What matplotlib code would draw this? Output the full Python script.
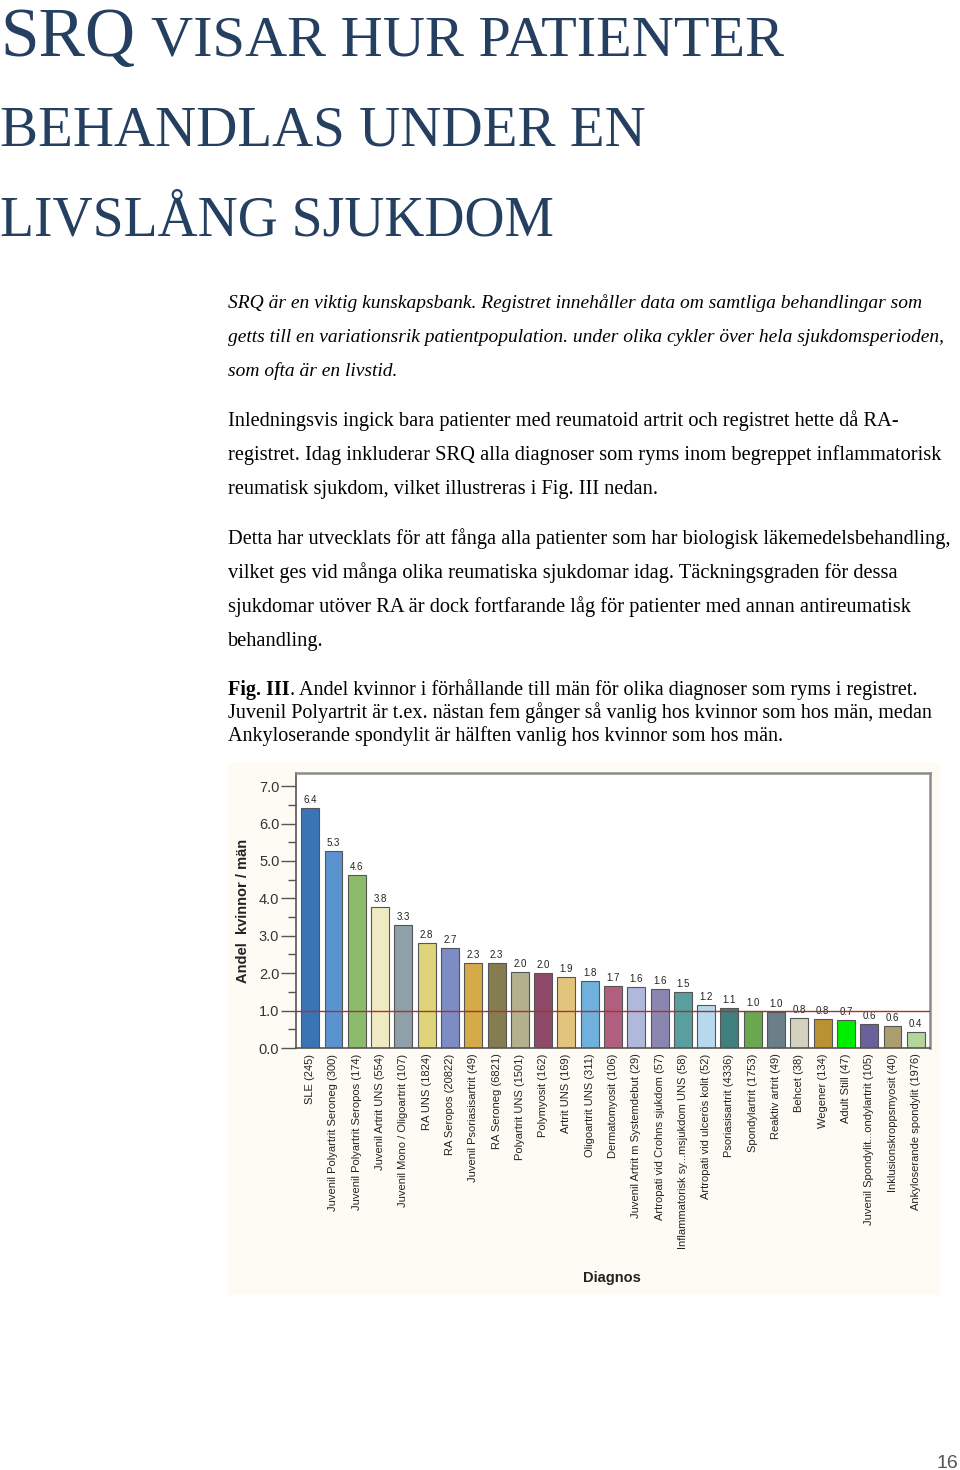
import numpy as np
import matplotlib.pyplot as plt
from matplotlib.patches import Rectangle
from matplotlib.ticker import MultipleLocator

# ---- data ----
diagnoses = ['SLE (245)', 'Juvenil Polyartrit Seroneg (300)', 'Juvenil Polyartrit Seropos (174)',
             'Juvenil Artrit UNS (554)', 'Juvenil Mono / Oligoartrit (107)', 'RA UNS (1824)',
             'RA Seropos (20822)', 'Juvenil Psoriasisartrit (49)', 'RA Seroneg (6821)',
             'Polyartrit UNS (1501)', 'Polymyosit (162)', 'Artrit UNS (169)',
             'Oligoartrit UNS (311)', 'Dermatomyosit (106)', 'Juvenil Artrit m Systemdebut (29)',
             'Artropati vid Crohns sjukdom (57)', 'Inflammatorisk sy...msjukdom UNS (58)',
             'Artropati vid ulcerös kolit (52)', 'Psoriasisartrit (4336)', 'Spondylartrit (1753)',
             'Reaktiv artrit (49)', 'Behcet (38)', 'Wegener (134)', 'Adult Still (47)',
             'Juvenil Spondylit...ondylartrit (105)', 'Inklusionskroppsmyosit (40)',
             'Ankyloserande spondylit (1976)']
ratio = [6.42, 5.27, 4.62, 3.78, 3.28, 2.80, 2.66, 2.28, 2.28, 2.03, 2.01, 1.89, 1.79,
         1.65, 1.64, 1.58, 1.50, 1.16, 1.08, 1.00, 0.95, 0.80, 0.77, 0.75, 0.63, 0.60, 0.42]
ratio_labels = ['6.4', '5.3', '4.6', '3.8', '3.3', '2.8', '2.7', '2.3', '2.3', '2.0', '2.0',
                '1.9', '1.8', '1.7', '1.6', '1.6', '1.5', '1.2', '1.1', '1.0', '1.0', '0.8',
                '0.8', '0.7', '0.6', '0.6', '0.4']
bar_colors = ['#3a74b6', '#5b93d0', '#8dbb6c', '#f0eac2', '#8fa0a8', '#e0d47a', '#7d8cc4',
              '#d4ab48', '#857c50', '#b3b08e', '#8e4a68', '#e3c47c', '#6fb0dc', '#b0607e',
              '#b0b9dc', '#8b86b0', '#5a9f9f', '#b6d9ee', '#3f7f7d', '#6aa84f', '#6a7f88',
              '#d2d2bf', '#b99234', '#00ee00', '#6a609a', '#ad9e70', '#b5d69b']

W, H = 960, 1470
fig = plt.figure(figsize=(9.6, 14.7), dpi=100)
fig.patch.set_facecolor('white')


def fx(px):
    return px / W


def fy(py):
    return 1 - py / H


serif = ['Liberation Serif', 'DejaVu Serif']
sans = ['Liberation Sans', 'DejaVu Sans']
title_col = '#243f60'

# ---- heading ----
renderer = fig.canvas.get_renderer()
t1 = fig.text(fx(0), fy(56), 'SRQ', fontsize=50, family=serif, color=title_col, va='baseline')
bb = t1.get_window_extent(renderer)
fig.text((bb.x1 + 16) / W, fy(56), 'VISAR HUR PATIENTER', fontsize=42, family=serif,
         color=title_col, va='baseline')
fig.text(fx(0), fy(146), 'BEHANDLAS UNDER EN', fontsize=41, family=serif, color=title_col, va='baseline')
fig.text(fx(0), fy(235), 'LIVSLÅNG SJUKDOM', fontsize=40, family=serif, color=title_col, va='baseline')

# ---- body text ----
p1 = ['SRQ är en viktig kunskapsbank. Registret innehåller data om samtliga behandlingar som',
      'getts till en variationsrik patientpopulation. under olika cykler över hela sjukdomsperioden,',
      'som ofta är en livstid.']
p2 = ['Inledningsvis ingick bara patienter med reumatoid artrit och registret hette då RA-',
      'registret. Idag inkluderar SRQ alla diagnoser som ryms inom begreppet inflammatorisk',
      'reumatisk sjukdom, vilket illustreras i Fig. III nedan.']
p3 = ['Detta har utvecklats för att fånga alla patienter som har biologisk läkemedelsbehandling,',
      'vilket ges vid många olika reumatiska sjukdomar idag. Täckningsgraden för dessa',
      'sjukdomar utöver RA är dock fortfarande låg för patienter med annan antireumatisk',
      'behandling.']
for i, line in enumerate(p1):
    fig.text(fx(228), fy(308 + 34 * i), line, fontsize=14.0, family=serif, style='italic', va='baseline')
for i, line in enumerate(p2):
    fig.text(fx(228), fy(426 + 34 * i), line, fontsize=14.7, family=serif, va='baseline')
for i, line in enumerate(p3):
    fig.text(fx(228), fy(544 + 34 * i), line, fontsize=14.7, family=serif, va='baseline')

tf = fig.text(fx(228), fy(695), 'Fig. III', fontsize=14.5, family=serif, weight='bold', va='baseline')
bb = tf.get_window_extent(renderer)
fig.text(bb.x1 / W, fy(695), '. Andel kvinnor i förhållande till män för olika diagnoser som ryms i registret.',
         fontsize=14.5, family=serif, va='baseline')
fig.text(fx(228), fy(718), 'Juvenil Polyartrit är t.ex. nästan fem gånger så vanlig hos kvinnor som hos män, medan',
         fontsize=14.5, family=serif, va='baseline')
fig.text(fx(228), fy(741), 'Ankyloserande spondylit är hälften vanlig hos kvinnor som hos män.',
         fontsize=14.5, family=serif, va='baseline')

fig.text(fx(958), fy(1468), '16', fontsize=14, family=sans, color='#555555', ha='right', va='baseline')

# ---- chart panel ----
fig.patches.append(Rectangle((fx(228), fy(1295)), fx(940 - 228), (1295 - 762) / H,
                             transform=fig.transFigure, facecolor='#fdfbf3', edgecolor='none', zorder=-5))

ax = fig.add_axes([fx(296), fy(1048), fx(930 - 296), (1048 - 773) / H])
ax.set_zorder(2)
ax.set_facecolor('white')
x = np.arange(len(diagnoses))
bars = ax.bar(x, ratio, width=0.77, color=bar_colors, edgecolor='#555555', linewidth=0.8, zorder=2)
for xi, v, lab in zip(x, ratio, ratio_labels):
    ax.text(xi, v + 0.08, lab, ha='center', va='bottom', fontsize=7, family=sans, color='#222222')
ax.axhline(1.0, color='#a83232', linewidth=1.0, zorder=3)

ax.set_xlim(-0.61, len(diagnoses) - 1 + 0.61)
ax.set_ylim(0, 7.35)
ax.yaxis.set_major_locator(MultipleLocator(1))
ax.yaxis.set_minor_locator(MultipleLocator(0.5))
ax.set_yticks(np.arange(0, 8, 1))
ax.set_yticklabels([f'{v:.1f}' for v in np.arange(0, 8, 1)], fontsize=10.5, family=sans, color='#333333')
ax.tick_params(axis='y', which='major', length=11, width=1, color='#555555', pad=1)
ax.tick_params(axis='y', which='minor', length=6, width=1, color='#555555')
ax.set_xticks(x)
ax.set_xticklabels(diagnoses, rotation=90, fontsize=8.0, family=sans, color='#222222',
                   ha='center', va='top')
ax.tick_params(axis='x', length=0, pad=4)
for side in ['top', 'right']:
    ax.spines[side].set_color('#8c8c8c')
    ax.spines[side].set_linewidth(1.8)
for side in ['left', 'bottom']:
    ax.spines[side].set_color('#555555')
    ax.spines[side].set_linewidth(1.2)

fig.text(fx(243), fy(911), 'Andel  kvinnor / män', rotation=90, fontsize=10.5, weight='bold',
         family=sans, ha='center', va='center', color='#222222')
fig.text(fx(612), fy(1278), 'Diagnos', fontsize=10.5, weight='bold', family=sans,
         ha='center', va='center', color='#222222')

fig.savefig('out.png', dpi=100)
